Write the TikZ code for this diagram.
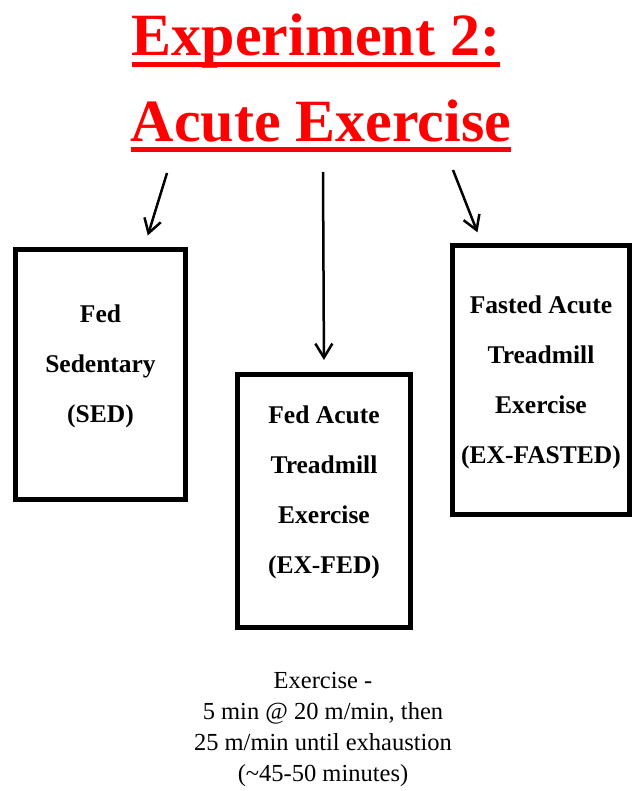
\documentclass[tikz,border=0pt]{standalone}
\usepackage{fontspec}
\setmainfont{Liberation Serif}
\usetikzlibrary{arrows.meta, positioning, calc}

\begin{document}
\begin{tikzpicture}[
    x=1pt, y=-1pt,
    title/.style={inner sep=0pt, text=red, font=\bfseries\fontsize{60}{70}\selectfont, anchor=base},
    uline/.style={draw=red, line width=5pt},
    box/.style={rectangle, draw=black, line width=5pt, align=center, font=\bfseries\fontsize{25.5}{50}\selectfont},
    note/.style={align=center, font=\fontsize{24.5}{31}\selectfont},
    arrow/.style={-{Straight Barb[length=14pt, width=17pt]}, line width=2.5pt, shorten >=12pt}
]
\useasboundingbox[fill=white] (0,0) rectangle (631,791);

% Title
\node[title] (title1) at (316,56) {Experiment 2:};
\node[title] (title2) at (321,142) {Acute Exercise};
\draw[uline] ([yshift=-9pt]title1.base west) -- ([yshift=-9pt]title1.base east);
\draw[uline] ([yshift=-8pt]title2.base west) -- ([yshift=-8pt]title2.base east);

% Groups
\node[box, minimum width=170pt, minimum height=250pt, text depth=21pt] (sed) at (100.5,374.5) {Fed\\Sedentary\\(SED)};
\node[box, minimum width=173pt, minimum height=253pt, text depth=23pt] (exfed) at (324,501) {Fed Acute\\Treadmill\\Exercise\\(EX-FED)};
\node[box, minimum width=177pt, minimum height=268pt, text depth=0pt] (exfasted) at (541,380) {Fasted Acute\\Treadmill\\Exercise\\(EX-FASTED)};

% Protocol
\node[note] (protocol) at (323,729) {Exercise -\\5 min @ 20 m/min, then\\25 m/min until exhaustion\\(\textasciitilde45-50 minutes)};

% Arrows
\coordinate (fromL) at (167,173);
\coordinate (fromM) at (323,172);
\coordinate (fromR) at (453,170);
\draw[arrow] (fromL) -- ($(sed.north)!0.5!(sed.north east)$);
\draw[arrow] (fromM) -- (exfed.north);
\draw[arrow] (fromR) -- ($(exfasted.north west)!0.35!(exfasted.north)$);

\end{tikzpicture}
\end{document}
